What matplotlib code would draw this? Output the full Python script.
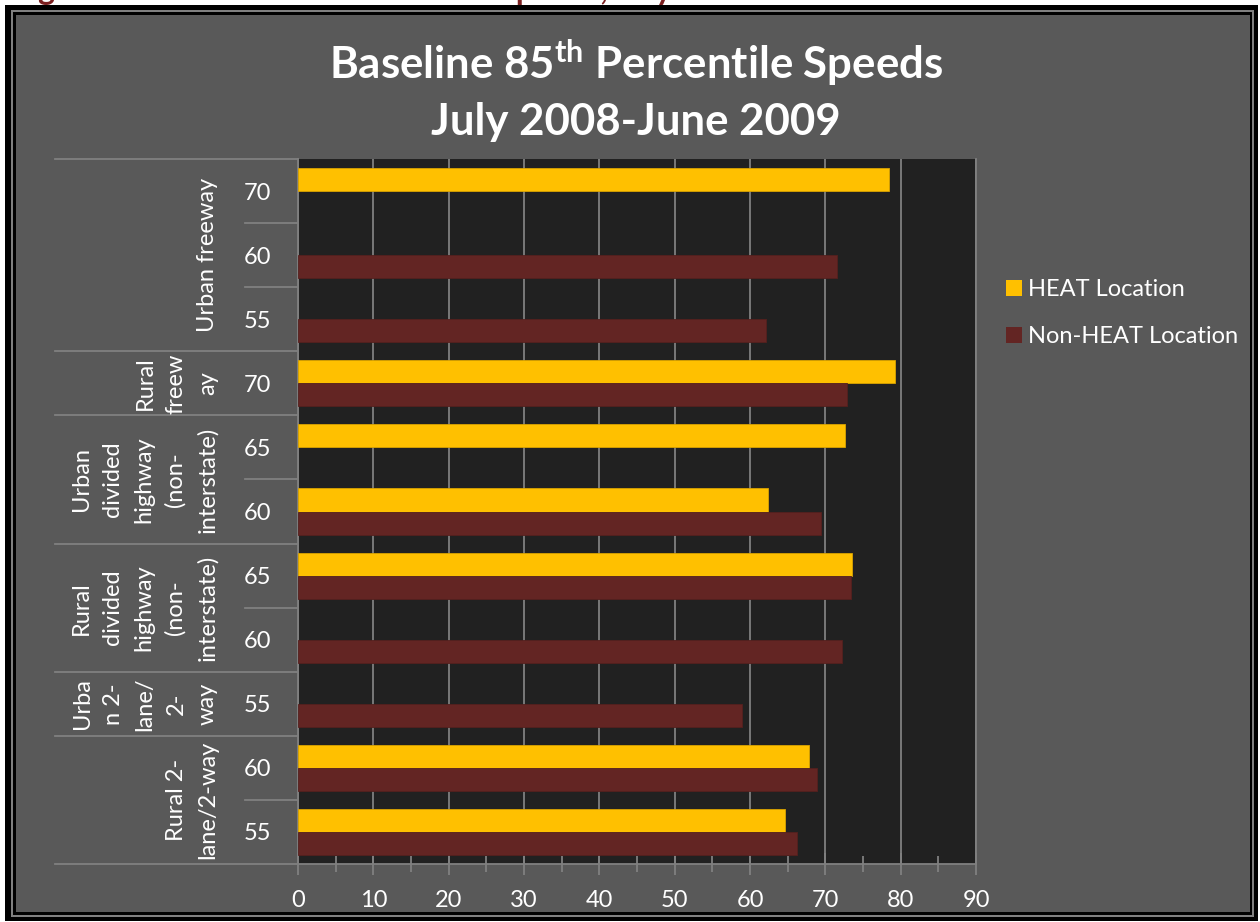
import matplotlib
matplotlib.use("Agg")
import matplotlib.pyplot as plt
import numpy as np
from matplotlib.patches import Rectangle, Patch
from matplotlib.transforms import blended_transform_factory

# ---------------- data ----------------
speed_labels = ["70", "60", "55", "70", "65", "60", "65", "60", "55", "60", "55"]
heat_values = [78.5, np.nan, np.nan, 79.3, 72.6, 62.4, 73.5, np.nan, np.nan, 67.8, 64.7]
nonheat_values = [np.nan, 71.5, 62.1, 72.9, np.nan, 69.4, 73.4, 72.2, 58.9, 68.9, 66.3]
group_labels = ["Urban freeway", "Rural\nfreew\nay", "Urban\ndivided\nhighway\n(non-\ninterstate)",
                "Rural\ndivided\nhighway\n(non-\ninterstate)", "Urba\nn 2-\nlane/\n2-\nway",
                "Rural 2-\nlane/2-way"]
group_sizes = [3, 1, 2, 2, 1, 2]
series_names = ["HEAT Location", "Non-HEAT Location"]
title_line1 = "Baseline 85$^{\\mathbf{th}}$ Percentile Speeds"
title_line2 = "July 2008-June 2009"
caption = "Figure 5. Baseline 85th Percentile Speeds, July 2008-June 2009"
x_ticks = list(range(0, 91, 10))

# ---------------- style ----------------
W, H = 1260, 922
FONT = "Lato"
plt.rcParams["font.family"] = [FONT, "DejaVu Sans"]
plt.rcParams["mathtext.fontset"] = "custom"
plt.rcParams["mathtext.rm"] = FONT
plt.rcParams["mathtext.bf"] = FONT + ":bold"
plt.rcParams["mathtext.it"] = FONT + ":italic"

BG = "#595959"
PLOT_BG = "#212121"
GRID = "#808080"
YELLOW = "#FFC000"
DARKRED = "#632523"
FS = 17

def fx(px):
    return px / W

def fy(py):
    return 1 - py / H

fig = plt.figure(figsize=(W / 100, H / 100), dpi=100)
fig.patch.set_facecolor("white")

def frect(x0, y0, x1, y1, color, z):
    fig.patches.append(Rectangle((fx(x0), fy(y1)), fx(x1) - fx(x0), fy(y0) - fy(y1),
                                 transform=fig.transFigure, facecolor=color,
                                 edgecolor="none", zorder=z))

# cut-off caption from the page above (only descenders peek out)
fig.text(fx(12), fy(0), caption, color="#7b1f1f", fontsize=23, fontweight="bold",
         va="baseline", ha="left", zorder=-20)

frect(5, 5, 1258, 921, "black", -10)
frect(11, 10, 1254, 917, "#808080", -9)
frect(13, 12, 1252, 915, "black", -8)
frect(16, 15, 1250, 912, BG, -7)

# ---------------- axes ----------------
L, R, T, B = 298, 976, 159, 864
ax = fig.add_axes([fx(L), fy(B), fx(R) - fx(L), fy(T) - fy(B)])
ax.set_facecolor(PLOT_BG)

n = len(speed_labels)
y = np.arange(n)
bh = 0.36
ax.barh(y - bh / 2, heat_values, height=bh, color=YELLOW, edgecolor="#d9a300",
        linewidth=0.6, label=series_names[0], zorder=3)
ax.barh(y + bh / 2, nonheat_values, height=bh, color=DARKRED, edgecolor="#55201e",
        linewidth=0.6, label=series_names[1], zorder=3)

ax.set_xlim(0, 90)
ax.set_ylim(n - 0.5, -0.5)
ax.set_xticks(x_ticks)
ax.set_xticks(np.arange(5, 90, 10), minor=True)
ax.set_xticklabels([str(t) for t in x_ticks])
ax.grid(axis="x", which="major", color=GRID, linewidth=1.3, zorder=1)
ax.set_axisbelow(True)

ax.tick_params(axis="x", which="major", direction="inout", length=16, width=1.3,
               color=GRID, labelcolor="white", labelsize=FS, pad=11)
ax.tick_params(axis="x", which="minor", direction="inout", length=11, width=1.3, color=GRID)

ax.set_yticks(y)
ax.set_yticklabels(speed_labels)
ax.tick_params(axis="y", length=0, labelcolor="white", labelsize=FS, pad=19)

for s in ["left", "bottom", "right"]:
    ax.spines[s].set_color(GRID)
    ax.spines[s].set_linewidth(1.3)
ax.spines["top"].set_visible(False)

# category separators on left
trans = blended_transform_factory(fig.transFigure, ax.transData)
boundaries_group = [-0.5]
for gs in group_sizes:
    boundaries_group.append(boundaries_group[-1] + gs)
for b in np.arange(-0.5, n, 1.0):
    x0 = 55 if any(abs(b - g) < 1e-6 for g in boundaries_group) else 245
    ax.plot([fx(x0), fx(L)], [b, b], transform=trans, color=GRID, lw=1.3,
            clip_on=False, zorder=2)

for i, lab in enumerate(group_labels):
    c = (boundaries_group[i] + boundaries_group[i + 1]) / 2
    ax.text(fx(218), c, lab, transform=trans, rotation=90, ha="right", va="center",
            multialignment="center", color="white", fontsize=FS, linespacing=1.6)

# ---------------- title ----------------
fig.text(fx(636), fy(63), title_line1, ha="center", va="center", color="white",
         fontsize=31.5, fontweight="bold")
fig.text(fx(636), fy(122), title_line2, ha="center", va="center", color="white",
         fontsize=31.5, fontweight="bold")

# ---------------- legend ----------------
handles = [Patch(facecolor=YELLOW, edgecolor="none"), Patch(facecolor=DARKRED, edgecolor="none")]
leg = fig.legend(handles, series_names, loc="center left",
                 bbox_to_anchor=(fx(985), fy(313)), frameon=False,
                 handlelength=0.65, handleheight=0.65, handletextpad=0.25,
                 labelspacing=1.1, fontsize=FS)
for t in leg.get_texts():
    t.set_color("white")

fig.savefig("out.png", dpi=100, facecolor=fig.get_facecolor())
